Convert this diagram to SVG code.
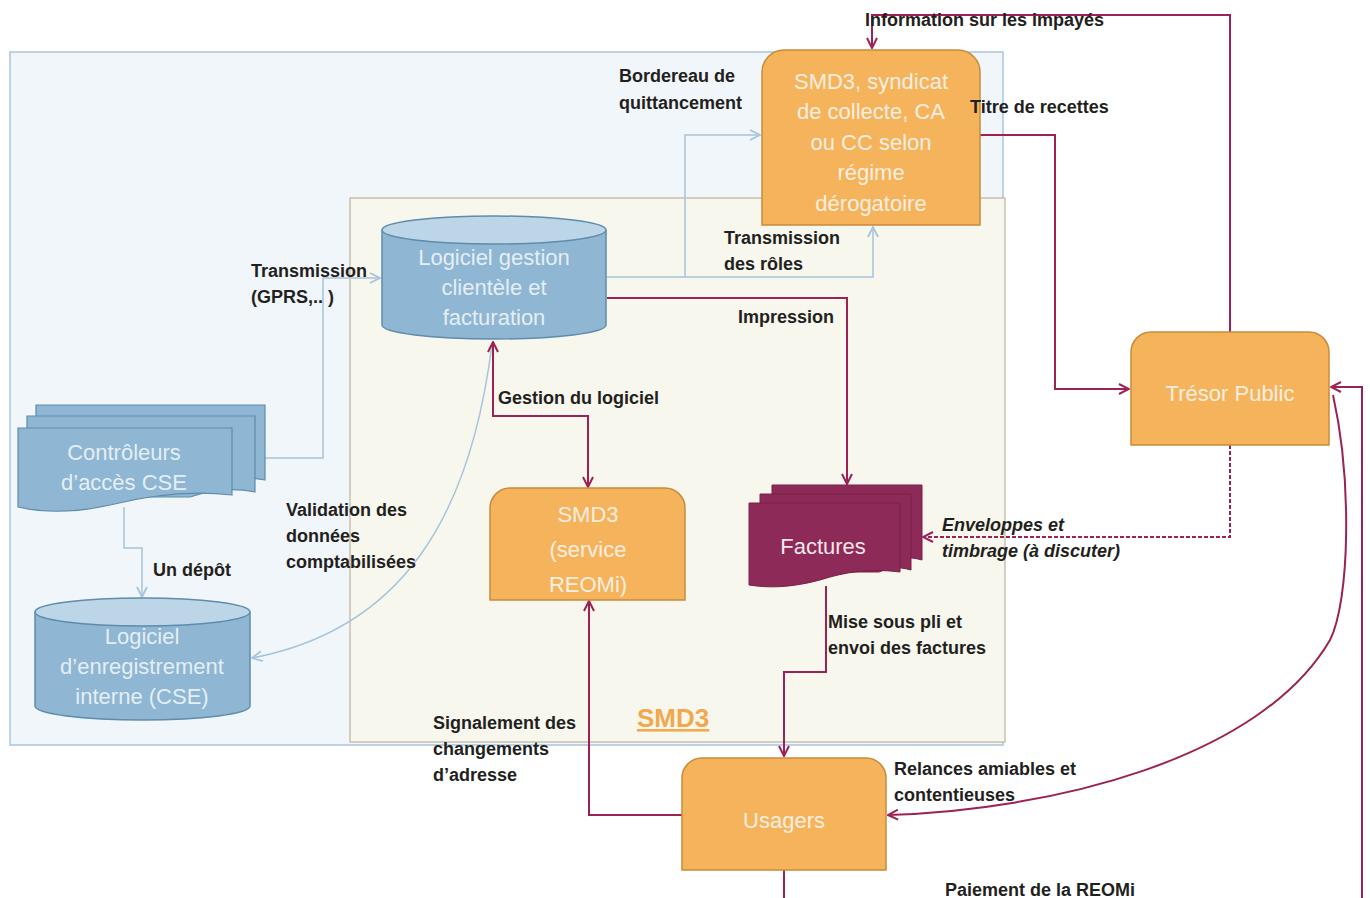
<svg xmlns="http://www.w3.org/2000/svg" width="1370" height="898" viewBox="0 0 1370 898">
<defs>
<style>
.lbl{font-family:"Liberation Sans",Arial,sans-serif;font-size:18px;font-weight:bold;fill:#231f20}
.it{font-style:italic}
.ntx{font-family:"Liberation Sans",Arial,sans-serif;font-size:22px;fill:#fbeee0;text-anchor:middle}
.btx{font-family:"Liberation Sans",Arial,sans-serif;font-size:22px;fill:#e4eef5;text-anchor:middle}
.org{fill:#f5b45c;stroke:#c98a3a;stroke-width:1.5}
.cyl{fill:#8fb6d2;stroke:#5e8cad;stroke-width:1.5}
.cyltop{fill:#bcd6e8;stroke:#5e8cad;stroke-width:1.5}
.doc{fill:#8fb6d2;stroke:#5e8cad;stroke-width:1.2}
.fac{fill:#8e2a57;stroke:#7a2049;stroke-width:1}
.mag{fill:none;stroke:#9c2255;stroke-width:2}
.dash{stroke-dasharray:4 2}
.blu{fill:none;stroke:#a7c4dc;stroke-width:1.5}
</style>
<marker id="am" viewBox="0 0 12 12" refX="11" refY="6" markerWidth="12" markerHeight="12" markerUnits="userSpaceOnUse" orient="auto-start-reverse">
<path d="M1,1 L11,6 L1,11" fill="none" stroke="#9c2255" stroke-width="2"/>
</marker>
<marker id="ab" viewBox="0 0 12 12" refX="11" refY="6" markerWidth="12" markerHeight="12" markerUnits="userSpaceOnUse" orient="auto-start-reverse">
<path d="M1,1 L11,6 L1,11" fill="none" stroke="#a7c4dc" stroke-width="1.8"/>
</marker>
</defs>
<rect width="1370" height="898" fill="#ffffff"/>
<g id="zones">
<rect x="10" y="52" width="993" height="693" fill="#f1f6fa" stroke="#a9c6de" stroke-width="1.5"/>
<rect x="350" y="198" width="655" height="544" fill="#f7f7ee" stroke="#c2b9a6" stroke-width="1.3"/>
<text x="637" y="727" font-family="'Liberation Sans',Arial,sans-serif" font-size="26" font-weight="bold" fill="#f2a84c" text-decoration="underline">SMD3</text>
</g>
<g id="connectors">
<path class="blu" d="M265,458 H323 V278 H380" marker-end="url(#ab)"/>
<path class="blu" d="M124,507 V548 H142 V597" marker-end="url(#ab)"/>
<path class="blu" d="M492,344 C470,520 400,630 252,658" marker-end="url(#ab)"/>
<path class="blu" d="M607,277 H873 V227" marker-end="url(#ab)"/>
<path class="blu" d="M685,277 V135 H760" marker-end="url(#ab)"/>
<path class="mag" d="M1230,332 V15 H872 V48" marker-end="url(#am)"/>
<path class="mag" d="M980,135 H1055 V389 H1129" marker-end="url(#am)"/>
<path class="mag" d="M607,298 H847 V484" marker-end="url(#am)"/>
<path class="mag" d="M493,342 V416 H588 V487" marker-start="url(#am)" marker-end="url(#am)"/>
<path class="mag" d="M682,815 H589 V601" marker-end="url(#am)"/>
<path class="mag" d="M826,586 V672 H784 V756" marker-end="url(#am)"/>
<path class="mag" d="M1333,395 C1352,480 1350,600 1330,640 C1260,760 1050,810 888,815" marker-end="url(#am)"/>
<path class="mag" d="M784,870 V898"/>
<path class="mag" d="M1362,898 V387 H1331" marker-end="url(#am)"/>
<path class="mag dash" d="M1230,445 V537 H923" marker-end="url(#am)"/>
</g>
<g id="smd3-syndicat">
<path class="org" d="M762,72 A22,22 0 0 1 784,50 H958 A22,22 0 0 1 980,72 V225 H762 Z"/>
<text class="ntx" x="871" y="89">SMD3, syndicat</text>
<text class="ntx" x="871" y="119">de collecte, CA</text>
<text class="ntx" x="871" y="150">ou CC selon</text>
<text class="ntx" x="871" y="180">régime</text>
<text class="ntx" x="871" y="211">dérogatoire</text>
</g>
<g id="tresor-public">
<path class="org" d="M1131,352 A20,20 0 0 1 1151,332 H1309 A20,20 0 0 1 1329,352 V445 H1131 Z"/>
<text class="ntx" x="1230" y="401" font-size="26">Trésor Public</text>
</g>
<g id="smd3-service">
<path class="org" d="M490,508 A20,20 0 0 1 510,488 H665 A20,20 0 0 1 685,508 V600 H490 Z"/>
<text class="ntx" x="588" y="522" font-size="25">SMD3</text>
<text class="ntx" x="588" y="557" font-size="25">(service</text>
<text class="ntx" x="588" y="592" font-size="25">REOMi)</text>
</g>
<g id="usagers">
<path class="org" d="M682,778 A20,20 0 0 1 702,758 H866 A20,20 0 0 1 886,778 V870 H682 Z"/>
<text class="ntx" x="784" y="828" font-size="27">Usagers</text>
</g>
<g id="logiciel-gestion">
<path class="cyl" d="M382,230 V325 A112,14 0 0 0 606,325 V230"/>
<ellipse class="cyltop" cx="494" cy="230" rx="112" ry="14"/>
<text class="btx" x="494" y="265">Logiciel gestion</text>
<text class="btx" x="494" y="295">clientèle et</text>
<text class="btx" x="494" y="325">facturation</text>
</g>
<g id="logiciel-enregistrement">
<path class="cyl" d="M35,612 V706 A107.5,14 0 0 0 250,706 V612"/>
<ellipse class="cyltop" cx="142.5" cy="612" rx="107.5" ry="14"/>
<text class="btx" x="142" y="644">Logiciel</text>
<text class="btx" x="142" y="674">d’enregistrement</text>
<text class="btx" x="142" y="704">interne (CSE)</text>
</g>
<g id="controleurs">
<path class="doc" d="M36,405 H265 V480 C240,475 220,478 200,485 L36,485 Z"/>
<path class="doc" d="M27,416 H255 V492 C230,487 210,490 190,497 L27,497 Z"/>
<path class="doc" d="M18,428 H232 V495 C190,490 150,495 110,505 C70,514 40,512 18,507 Z"/>
<text class="btx" x="124" y="460">Contrôleurs</text>
<text class="btx" x="124" y="490">d’accès CSE</text>
</g>
<g id="factures">
<path class="fac" d="M772,485 H922 V560 C908,556 900,558 890,562 L772,562 Z"/>
<path class="fac" d="M760,494 H911 V570 C897,566 889,568 879,572 L760,572 Z"/>
<path class="fac" d="M749,503 H900 V572 C870,568 845,572 820,580 C790,588 768,588 749,585 Z"/>
<text x="823" y="554" font-family="'Liberation Sans',Arial,sans-serif" font-size="22" fill="#f3e6ec" text-anchor="middle">Factures</text>
</g>
<g id="labels">
<text class="lbl" x="865" y="26">Information sur les impayés</text>
<text class="lbl" x="619" y="82">Bordereau de</text>
<text class="lbl" x="619" y="109">quittancement</text>
<text class="lbl" x="970" y="113">Titre de recettes</text>
<text class="lbl" x="724" y="244">Transmission</text>
<text class="lbl" x="724" y="270">des rôles</text>
<text class="lbl" x="251" y="277">Transmission</text>
<text class="lbl" x="251" y="303">(GPRS,.. )</text>
<text class="lbl" x="738" y="323">Impression</text>
<text class="lbl" x="498" y="404">Gestion du logiciel</text>
<text class="lbl" x="286" y="516">Validation des</text>
<text class="lbl" x="286" y="542">données</text>
<text class="lbl" x="286" y="568">comptabilisées</text>
<text class="lbl" x="153" y="576">Un dépôt</text>
<text class="lbl it" x="942" y="531">Enveloppes et</text>
<text class="lbl it" x="942" y="557">timbrage (à discuter)</text>
<text class="lbl" x="828" y="628">Mise sous pli et</text>
<text class="lbl" x="828" y="654">envoi des factures</text>
<text class="lbl" x="433" y="729">Signalement des</text>
<text class="lbl" x="433" y="755">changements</text>
<text class="lbl" x="433" y="781">d’adresse</text>
<text class="lbl" x="894" y="775">Relances amiables et</text>
<text class="lbl" x="894" y="801">contentieuses</text>
<text class="lbl" x="945" y="896">Paiement de la REOMi</text>
</g>
</svg>
